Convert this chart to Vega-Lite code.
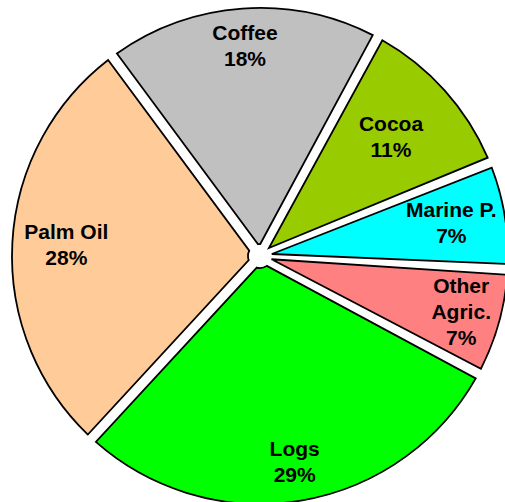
{
  "$schema": "https://vega.github.io/schema/vega-lite/v6.json",
  "width": 505,
  "height": 502,
  "autosize": {"type": "fit", "contains": "padding"},
  "padding": {"left": 15, "top": 10, "right": 0, "bottom": 0},
  "background": "white",
  "view": {"stroke": null},
  "config": {
    "text": {
      "font": "Liberation Sans",
      "fontSize": 21,
      "fontWeight": "bold",
      "lineBreak": "\n",
      "lineHeight": 26,
      "fill": "black"
    }
  },
  "data": {
    "values": [
      {"rank": 1, "name": "Coffee", "share": 18},
      {"rank": 2, "name": "Cocoa", "share": 11},
      {"rank": 3, "name": "Marine P.", "share": 7},
      {"rank": 4, "name": "Other Agric.", "share": 7},
      {"rank": 5, "name": "Logs", "share": 29},
      {"rank": 6, "name": "Palm Oil", "share": 28}
    ]
  },
  "transform": [
    {
      "calculate": "(datum.name == 'Other Agric.' ? 'Other\\nAgric.' : datum.name) + '\\n' + datum.share + '%'",
      "as": "label"
    }
  ],
  "encoding": {
    "theta": {
      "field": "share",
      "type": "quantitative",
      "stack": true,
      "scale": {"range": [-0.637, 5.646]}
    },
    "order": {"field": "rank", "type": "quantitative"},
    "detail": {"field": "name", "type": "nominal"}
  },
  "layer": [
    {
      "mark": {
        "type": "arc",
        "radius": 248,
        "innerRadius": 12,
        "padAngle": 0.044,
        "stroke": "black",
        "strokeWidth": 1.8,
        "strokeJoin": "miter"
      },
      "encoding": {
        "color": {
          "field": "name",
          "type": "nominal",
          "scale": {
            "domain": ["Coffee", "Cocoa", "Marine P.", "Other Agric.", "Logs", "Palm Oil"],
            "range": ["#C0C0C0", "#99CC00", "#00FFFF", "#FF8080", "#00FF00", "#FFCC99"]
          },
          "legend": null
        }
      }
    },
    {
      "mark": {"type": "text", "radius": 210, "dy": -13},
      "encoding": {
        "text": {
          "condition": {"test": "datum.name == 'Coffee' || datum.name == 'Logs'", "field": "label", "type": "nominal"},
          "value": ""
        }
      }
    },
    {
      "mark": {"type": "text", "radius": 194, "dy": -13},
      "encoding": {
        "text": {
          "condition": {"test": "datum.name == 'Palm Oil' || datum.name == 'Marine P.'", "field": "label", "type": "nominal"},
          "value": ""
        }
      }
    },
    {
      "mark": {"type": "text", "radius": 176, "dy": -13},
      "encoding": {
        "text": {
          "condition": {"test": "datum.name == 'Cocoa'", "field": "label", "type": "nominal"},
          "value": ""
        }
      }
    },
    {
      "mark": {"type": "text", "radius": 209, "dy": -26},
      "encoding": {
        "text": {
          "condition": {"test": "datum.name == 'Other Agric.'", "field": "label", "type": "nominal"},
          "value": ""
        }
      }
    }
  ]
}
